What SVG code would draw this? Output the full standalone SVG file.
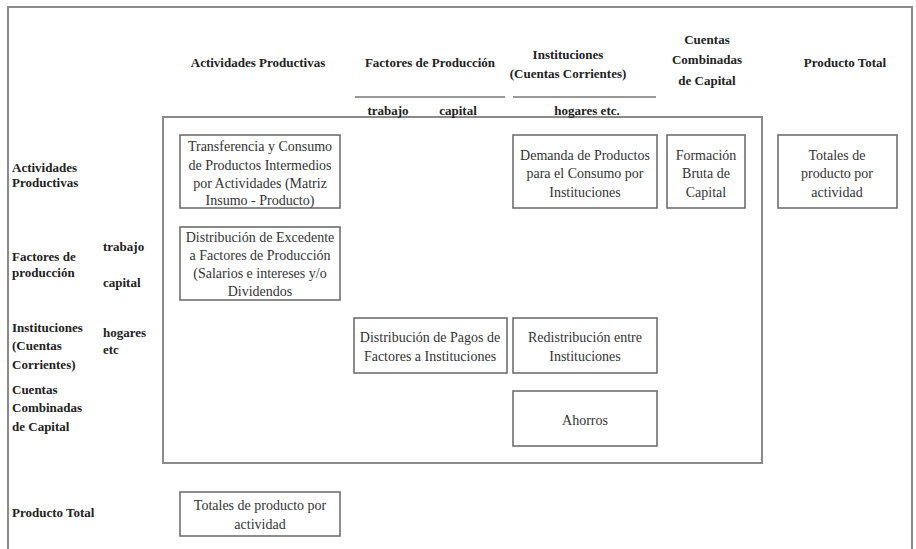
<svg xmlns="http://www.w3.org/2000/svg" width="916" height="549" viewBox="0 0 916 549">
<style>
.frame{fill:none;stroke:#8a8a8a;stroke-width:2}
.box{fill:#fff;stroke:#666;stroke-width:1.5}
.rule{stroke:#333;stroke-width:1}
.h,.hc,.t{font-family:'Liberation Serif','Times New Roman','DejaVu Serif',serif}
.h{font-weight:bold;font-size:13px;fill:#222}
.hc{font-weight:bold;font-size:13px;fill:#222;text-anchor:middle}
.t{font-size:14px;fill:#333;text-anchor:middle}
</style>
<rect width="916" height="549" fill="#fff"/>
<path class="frame" d="M8,549 V7 H912 V549"/>
<rect class="frame" x="163" y="117" width="599" height="346"/>
<g id="connectors">
<line class="rule" x1="355" y1="97" x2="505" y2="97"/>
<line class="rule" x1="513" y1="97" x2="656" y2="97"/>
</g>
<g id="col-headers">
<text class="hc" x="258" y="67">Actividades Productivas</text>
<text class="hc" x="430" y="67">Factores de Producción</text>
<text class="hc" x="568" y="59">Instituciones</text>
<text class="hc" x="568" y="78">(Cuentas Corrientes)</text>
<text class="hc" x="707" y="44">Cuentas</text>
<text class="hc" x="707" y="64">Combinadas</text>
<text class="hc" x="707" y="85">de Capital</text>
<text class="hc" x="845" y="67">Producto Total</text>
<text class="hc" x="388" y="115">trabajo</text>
<text class="hc" x="458" y="115">capital</text>
<text class="hc" x="587" y="115">hogares etc.</text>
</g>
<g id="row-headers">
<text class="h" x="12" y="172">Actividades</text>
<text class="h" x="12" y="187">Productivas</text>
<text class="h" x="12" y="261">Factores de</text>
<text class="h" x="12" y="277">producción</text>
<text class="h" x="103" y="251">trabajo</text>
<text class="h" x="103" y="287">capital</text>
<text class="h" x="12" y="332">Instituciones</text>
<text class="h" x="12" y="350">(Cuentas</text>
<text class="h" x="12" y="369">Corrientes)</text>
<text class="h" x="103" y="337">hogares</text>
<text class="h" x="103" y="354">etc</text>
<text class="h" x="12" y="394">Cuentas</text>
<text class="h" x="12" y="412">Combinadas</text>
<text class="h" x="12" y="431">de Capital</text>
<text class="h" x="12" y="517">Producto Total</text>
</g>
<g id="n-transferencia">
<rect class="box" x="180" y="135" width="160" height="73"/>
<text class="t" x="260" y="151">Transferencia y Consumo</text>
<text class="t" x="260" y="170">de Productos Intermedios</text>
<text class="t" x="260" y="188">por Actividades (Matriz</text>
<text class="t" x="260" y="205">Insumo - Producto)</text>
</g>
<g id="n-distribucion-excedente">
<rect class="box" x="180" y="227" width="160" height="73"/>
<text class="t" x="260" y="242">Distribución de Excedente</text>
<text class="t" x="260" y="260">a Factores de Producción</text>
<text class="t" x="260" y="278">(Salarios e intereses y/o</text>
<text class="t" x="260" y="296">Dividendos</text>
</g>
<g id="n-demanda">
<rect class="box" x="513" y="135" width="144" height="73"/>
<text class="t" x="585" y="160">Demanda de Productos</text>
<text class="t" x="585" y="178">para el Consumo por</text>
<text class="t" x="585" y="197">Instituciones</text>
</g>
<g id="n-formacion">
<rect class="box" x="667" y="135" width="78" height="73"/>
<text class="t" x="706" y="160">Formación</text>
<text class="t" x="706" y="178">Bruta de</text>
<text class="t" x="706" y="197">Capital</text>
</g>
<g id="n-totales-derecha">
<rect class="box" x="778" y="135" width="119" height="73"/>
<text class="t" x="837" y="160">Totales de</text>
<text class="t" x="837" y="178">producto por</text>
<text class="t" x="837" y="197">actividad</text>
</g>
<g id="n-distribucion-pagos">
<rect class="box" x="354" y="318" width="153" height="55"/>
<text class="t" x="430" y="342">Distribución de Pagos de</text>
<text class="t" x="430" y="361">Factores a Instituciones</text>
</g>
<g id="n-redistribucion">
<rect class="box" x="513" y="318" width="144" height="55"/>
<text class="t" x="585" y="342">Redistribución entre</text>
<text class="t" x="585" y="361">Instituciones</text>
</g>
<g id="n-ahorros">
<rect class="box" x="513" y="391" width="144" height="55"/>
<text class="t" x="585" y="425">Ahorros</text>
</g>
<g id="n-totales-abajo">
<rect class="box" x="180" y="492" width="160" height="44"/>
<text class="t" x="260" y="510">Totales de producto por</text>
<text class="t" x="260" y="529">actividad</text>
</g>
</svg>
